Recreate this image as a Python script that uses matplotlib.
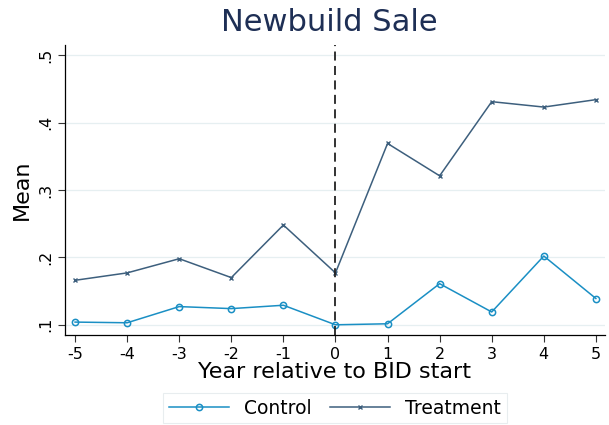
import numpy as np
import matplotlib.pyplot as plt

# data
years = [-5, -4, -3, -2, -1, 0, 1, 2, 3, 4, 5]
control = [0.104, 0.103, 0.127, 0.124, 0.129, 0.100, 0.1015, 0.161, 0.119, 0.202, 0.139]
treatment = [0.166, 0.177, 0.198, 0.170, 0.248, 0.177, 0.369, 0.321, 0.431, 0.423, 0.434]
yticks = [0.1, 0.2, 0.3, 0.4, 0.5]
ytick_labels = ['.1', '.2', '.3', '.4', '.5']

col_control = '#1a8fc4'
col_treat = '#3d5f7d'
col_title = '#1e2f55'

fig = plt.figure(figsize=(6.09, 4.25), dpi=100)
ax = fig.add_axes([0.107, 0.212, 0.886, 0.682])

for yy in yticks:
    ax.axhline(yy, color='#e6eff1', lw=0.9, zorder=0)

ax.plot(years, control, color=col_control, lw=1.1, marker='o', ms=4.5,
        mfc='none', mew=1.1, label='Control')
ax.plot(years, treatment, color=col_treat, lw=1.1, marker='x', ms=3,
        mew=1.0, label='Treatment')
ax.axvline(0, color='#222222', lw=1.3, ls=(0, (5, 3)))

ax.set_xlim(-5.19, 5.17)
ax.set_ylim(0.085, 0.515)
ax.set_xticks(years)
ax.set_xticklabels([str(y) for y in years], fontsize=11.5)
ax.set_yticks(yticks)
ax.set_yticklabels(ytick_labels, fontsize=11.5, rotation=90, va='center')
ax.tick_params(direction='out', length=5, width=0.8, color='#333333')

ax.spines['top'].set_visible(False)
ax.spines['right'].set_visible(False)
ax.spines['left'].set_linewidth(0.9)
ax.spines['bottom'].set_linewidth(0.9)

ax.set_xlabel('Year relative to BID start', fontsize=16, labelpad=0)
ax.set_ylabel('Mean', fontsize=16, labelpad=5)
fig.text(0.54, 0.947, 'Newbuild Sale', fontsize=22, color=col_title,
         ha='center', va='center')

leg = fig.legend(loc='center', bbox_to_anchor=(0.55, 0.04), ncol=2,
                 fontsize=13.5, frameon=True, fancybox=False,
                 edgecolor='#e3e9eb', handlelength=3.2, columnspacing=1.0,
                 borderpad=0.3)
leg.get_frame().set_linewidth(0.8)

fig.savefig('out.png', dpi=100)
